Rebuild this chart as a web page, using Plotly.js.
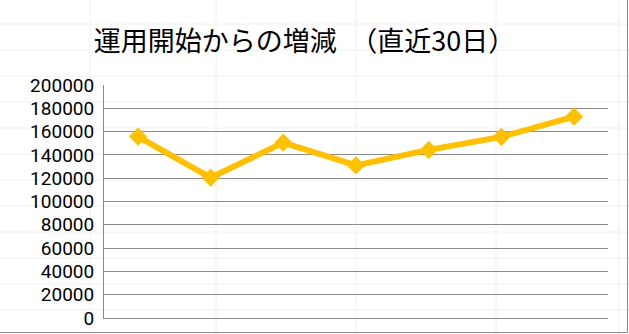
<!DOCTYPE html>
<html>
<head>
<meta charset="utf-8">
<script src="https://cdn.plot.ly/plotly-3.0.1.min.js"></script>
<style>html,body{margin:0;padding:0;background:#fff;}#chart{width:629px;height:334px;}</style>
</head>
<body>
<div id="chart"></div>
<script>
const categories = ["1", "2", "3", "4", "5", "6", "7"];
const values = [155700, 120500, 150500, 131000, 144300, 155500, 172800];
const yTickValues = [0, 20000, 40000, 60000, 80000, 100000, 120000, 140000, 160000, 180000, 200000];
const yTickLabels = ["0", "20000", "40000", "60000", "80000", "100000", "120000", "140000", "160000", "180000", "200000"];
const titleText = "運用開始からの増減　（直近30日）";

const W = 629, H = 334;
const M = {l: 104, r: 21, t: 85, b: 16};
const pw = W - M.l - M.r, ph = H - M.t - M.b;
const px = x => (x - M.l) / pw;
const py = y => (H - M.b - y) / ph;

// faint spreadsheet cell grid in the background
const shapes = [];
const sheetRows = [24, 50, 76, 102, 128, 154, 180, 206, 232, 258, 284, 310];
const sheetCols = [90, 216, 356, 496, 619];
sheetRows.forEach(y => shapes.push({type: 'line', xref: 'paper', yref: 'paper', x0: px(0), x1: px(W), y0: py(y), y1: py(y), line: {color: '#f0f0f0', width: 1}, layer: 'below'}));
sheetCols.forEach(x => shapes.push({type: 'line', xref: 'paper', yref: 'paper', x0: px(x), x1: px(x), y0: py(0), y1: py(H), line: {color: '#f0f0f0', width: 1}, layer: 'below'}));
// chart area border (right and bottom visible)
shapes.push({type: 'line', xref: 'paper', yref: 'paper', x0: px(627.5), x1: px(627.5), y0: py(0), y1: py(332.5), line: {color: '#8a8a8a', width: 1}});
shapes.push({type: 'line', xref: 'paper', yref: 'paper', x0: px(0), x1: px(627.5), y0: py(332.5), y1: py(332.5), line: {color: '#8a8a8a', width: 1}});

const trace = {
  x: categories,
  y: values,
  type: 'scatter',
  mode: 'lines+markers',
  line: {color: '#FFC000', width: 6},
  marker: {symbol: 'diamond', size: 14, color: '#FFC000'},
  hoverinfo: 'skip'
};

const layout = {
  width: W, height: H,
  margin: M,
  paper_bgcolor: 'rgba(0,0,0,0)',
  plot_bgcolor: 'rgba(0,0,0,0)',
  showlegend: false,
  font: {family: '"Noto Sans CJK JP", "Noto Sans", sans-serif', color: '#000'},
  title: {
    text: titleText,
    font: {size: 27, family: '"Noto Sans CJK JP", sans-serif', color: '#000'},
    xref: 'container', yref: 'container',
    x: 304.5 / W, xanchor: 'center',
    y: 1 - 42 / H, yanchor: 'middle'
  },
  xaxis: {
    type: 'category',
    showticklabels: false,
    showgrid: false,
    zeroline: false,
    showline: true,
    linecolor: '#8a8a8a',
    linewidth: 1,
    ticks: '',
    fixedrange: true
  },
  yaxis: {
    range: [0, 200000],
    tickvals: yTickValues,
    ticktext: yTickLabels,
    tickfont: {size: 19, family: 'Roboto, "Liberation Sans", sans-serif', color: '#000'},
    showgrid: true,
    gridcolor: '#8a8a8a',
    gridwidth: 1,
    zeroline: false,
    showline: true,
    linecolor: '#8a8a8a',
    linewidth: 1,
    ticks: '',
    ticklabelstandoff: 5,
    fixedrange: true
  },
  shapes: shapes
};

Plotly.newPlot('chart', [trace], layout, {displayModeBar: false, staticPlot: true});
</script>
</body>
</html>
